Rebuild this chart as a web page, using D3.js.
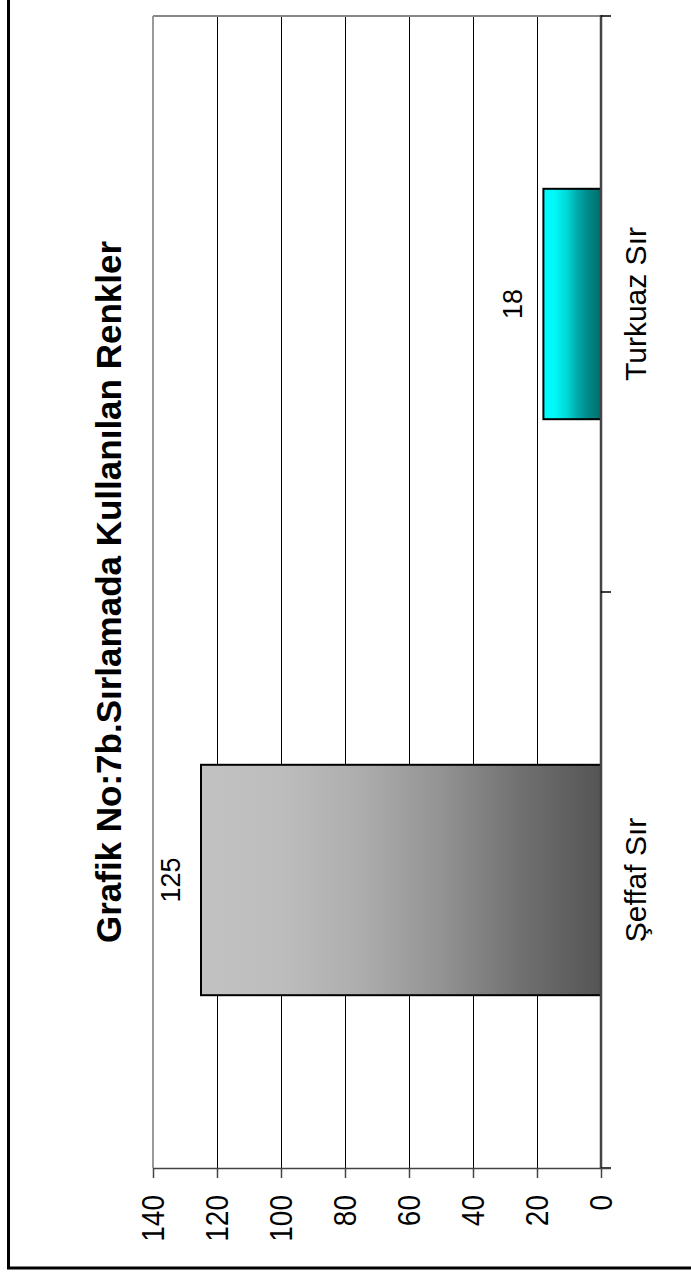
<!DOCTYPE html>
<html>
<head>
<meta charset="utf-8">
<script src="https://cdn.jsdelivr.net/npm/d3@7"></script>
<style>
  html, body { margin: 0; padding: 0; background: #fff; }
  svg { display: block; }
  text { font-family: "Liberation Sans", Arial, Helvetica, sans-serif; fill: #000; }
</style>
</head>
<body>
<svg id="chart" width="691" height="1274"></svg>
<script>
// ---- data ----
const title = "Grafik No:7b.Sırlamada Kullanılan Renkler";
const categories = ["Turkuaz Sır", "Şeffaf Sır"];
const values = [18, 125];
const tickValues = [0, 20, 40, 60, 80, 100, 120, 140];
const gradients = [
  ["#00ffff", "#00f8f8", "#00d8d8", "#00a8a8", "#008484", "#006c6c"],
  ["#c2c2c2", "#bdbdbd", "#adadad", "#939393", "#707070", "#555555"]
];

// ---- layout ----
const svg = d3.select("#chart");
const plot = { left: 153, right: 601, top: 16, bottom: 1168 };

const x = d3.scaleLinear().domain([0, 140]).range([plot.right, plot.left]);
const y = d3.scaleBand().domain(categories).range([plot.top, plot.bottom])
  .paddingInner(0.6).paddingOuter(0.3);

// outer frame (partially visible)
svg.append("line").attr("x1", 8.5).attr("x2", 8.5).attr("y1", 0).attr("y2", 1269)
  .attr("stroke", "#000").attr("stroke-width", 3);
svg.append("line").attr("x1", 7).attr("x2", 691).attr("y1", 1268).attr("y2", 1268)
  .attr("stroke", "#000").attr("stroke-width", 3);

// gradients
const defs = svg.append("defs");
gradients.forEach((stops, i) => {
  const g = defs.append("linearGradient").attr("id", "grad" + i)
    .attr("x1", "0%").attr("x2", "100%").attr("y1", "0%").attr("y2", "0%");
  stops.forEach((c, k) => g.append("stop")
    .attr("offset", (k / (stops.length - 1) * 100) + "%").attr("stop-color", c));
});

// gridlines
const grid = svg.append("g").attr("transform", `translate(0,${plot.bottom})`)
  .call(d3.axisBottom(x).tickValues(tickValues.filter(v => v > 0 && v < 140))
    .tickSize(-(plot.bottom - plot.top)).tickFormat(""));
grid.select(".domain").remove();
grid.selectAll(".tick line").attr("stroke", "#000").attr("stroke-width", 1);

// plot border (top + left) gray
svg.append("line").attr("x1", plot.left).attr("x2", plot.right)
  .attr("y1", plot.top).attr("y2", plot.top).attr("stroke", "#888").attr("stroke-width", 2);
svg.append("line").attr("x1", plot.left).attr("x2", plot.left)
  .attr("y1", plot.top).attr("y2", plot.bottom).attr("stroke", "#999").attr("stroke-width", 2);

// bars
svg.append("g").selectAll("rect").data(categories).join("rect")
  .attr("x", (c, i) => x(values[i]))
  .attr("width", (c, i) => x(0) - x(values[i]))
  .attr("y", c => y(c))
  .attr("height", y.bandwidth())
  .attr("fill", (c, i) => `url(#grad${i})`)
  .attr("stroke", "#000").attr("stroke-width", 2);

// category axis (at value 0)
svg.append("line").attr("x1", plot.right).attr("x2", plot.right)
  .attr("y1", plot.top - 1).attr("y2", plot.bottom + 1)
  .attr("stroke", "#444").attr("stroke-width", 2.5);
const bounds = [plot.top].concat(categories.map(c => y(c) + y.bandwidth() + y.step() * y.paddingInner() / 2));
svg.append("g").selectAll("line").data(bounds).join("line")
  .attr("x1", plot.right).attr("x2", plot.right + 10)
  .attr("y1", d => d).attr("y2", d => d)
  .attr("stroke", "#000").attr("stroke-width", 1.5);

// value axis
const vAxis = svg.append("g").attr("transform", `translate(0,${plot.bottom})`)
  .call(d3.axisBottom(x).tickValues(tickValues).tickSize(10).tickSizeOuter(0).tickFormat(d3.format("d")));
vAxis.select(".domain").attr("stroke", "#444").attr("stroke-width", 1.5)
  .attr("d", `M${plot.left},0.5H${plot.right + 10}`);
vAxis.selectAll(".tick line").attr("stroke", "#444").attr("stroke-width", 1.5);
vAxis.selectAll(".tick text")
  .attr("x", 0).attr("y", 0).attr("dy", "0.35em")
  .attr("transform", "translate(0,27) rotate(-90) scale(1,1.12)")
  .attr("text-anchor", "end")
  .attr("font-size", 28)
  .attr("fill", "#000")
  .attr("font-family", "Liberation Sans, Arial, sans-serif");

// category labels
svg.append("g").selectAll("text").data(categories).join("text")
  .attr("transform", c => `translate(${plot.right + 34},${y(c) + y.bandwidth() / 2}) rotate(-90)`)
  .attr("text-anchor", "middle").attr("dy", "0.35em")
  .attr("font-size", 30)
  .text(c => c);

// value labels
svg.append("g").selectAll("text").data(categories).join("text")
  .attr("transform", (c, i) => `translate(${x(values[i]) - 21},${y(c) + y.bandwidth() / 2}) rotate(-90)`)
  .attr("text-anchor", "middle")
  .attr("font-size", 27)
  .text((c, i) => values[i]);

// title
svg.append("text")
  .attr("transform", `translate(121,${(plot.top + plot.bottom) / 2}) rotate(-90)`)
  .attr("text-anchor", "middle")
  .attr("font-size", 35).attr("font-weight", "bold")
  .text(title);
</script>
</body>
</html>
